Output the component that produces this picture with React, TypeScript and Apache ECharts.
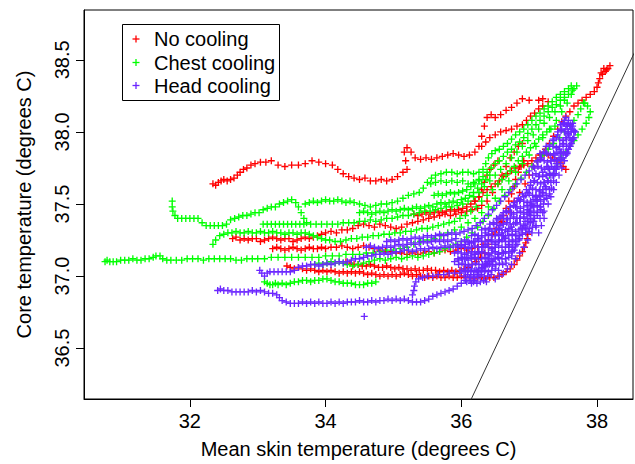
import React, { useEffect, useRef } from "react";
import * as echarts from "echarts";

const FONT = "Liberation Sans, Arial, Helvetica, sans-serif";
const RED = "#FF0000";
const GREEN = "#00FF00";
const PURPLE = "#6B26FF";

const xTicks = [32, 34, 36, 38];
const yTicks = [36.5, 37, 37.5, 38, 38.5];
const xRange = [30.44, 38.53];
const yRange = [36.147, 38.846];
const identityLine = [[30, 30], [39, 39]];
const legendNames = ["No cooling", "Chest cooling", "Head cooling"];

// ---- No cooling (red) runs: [mean skin, core] ----
const noCool1 = [[32.34,37.64],[32.38,37.63],[32.42,37.65],[32.46,37.66],[32.5,37.67],[32.55,37.66],[32.6,37.67],[32.65,37.68],[32.7,37.7],[32.74,37.72],[32.79,37.74],[32.84,37.75],[32.9,37.77],[32.96,37.78],[33.04,37.79],[33.12,37.79],[33.2,37.8],[33.3,37.77],[33.4,37.76],[33.5,37.77],[33.6,37.77],[33.7,37.78],[33.8,37.8],[33.9,37.79],[34.0,37.78],[34.1,37.77],[34.18,37.74],[34.26,37.71],[34.34,37.69],[34.42,37.68],[34.5,37.67],[34.58,37.68],[34.66,37.66],[34.74,37.66],[34.82,37.67],[34.9,37.66],[34.98,37.67],[35.06,37.69],[35.14,37.72],[35.2,37.74],[35.18,37.8],[35.16,37.86],[35.2,37.89],[35.26,37.86],[35.32,37.82],[35.4,37.81],[35.48,37.82],[35.56,37.81],[35.64,37.82],[35.72,37.83],[35.8,37.84],[35.88,37.85],[35.96,37.84],[36.04,37.83],[36.12,37.84],[36.2,37.86],[36.26,37.9],[36.3,37.97],[36.34,38.04],[36.38,38.1],[36.44,38.12],[36.5,38.1],[36.58,38.12],[36.66,38.15],[36.74,38.17],[36.82,38.2],[36.9,38.23],[37.0,38.22],[37.14,38.22],[37.2,38.23],[37.28,38.21]];
const noCool2 = [[32.63,37.26],[32.68,37.27],[32.74,37.25],[32.8,37.26],[32.86,37.25],[32.92,37.26],[32.98,37.26],[33.04,37.24],[33.1,37.25],[33.16,37.26],[33.22,37.27],[33.28,37.26],[33.34,37.25],[33.4,37.26],[33.46,37.26],[33.52,37.24],[33.58,37.25],[33.64,37.26],[33.7,37.27],[33.76,37.26],[33.82,37.27],[33.88,37.28],[33.94,37.29],[34.0,37.3],[34.08,37.31],[34.16,37.3],[34.24,37.32],[34.32,37.32],[34.4,37.33],[34.48,37.35],[34.56,37.36],[34.64,37.35],[34.72,37.34],[34.8,37.36],[34.88,37.35],[34.96,37.34],[35.04,37.33],[35.12,37.34],[35.2,37.36],[35.28,37.37],[35.36,37.38],[35.44,37.39],[35.52,37.4],[35.6,37.41],[35.68,37.42],[35.76,37.43],[35.84,37.42],[35.92,37.43],[36.0,37.44],[36.08,37.45],[36.16,37.46],[36.24,37.47],[36.3,37.49],[36.38,37.52],[36.46,37.58],[36.54,37.64],[36.6,37.7],[36.66,37.76],[36.72,37.82],[36.78,37.86],[36.84,37.9],[36.9,37.92]];
const noCool3 = [[33.22,37.19],[33.28,37.2],[33.34,37.19],[33.4,37.18],[33.46,37.19],[33.52,37.2],[33.58,37.19],[33.64,37.18],[33.7,37.19],[33.76,37.2],[33.82,37.19],[33.88,37.19],[33.94,37.2],[34.0,37.19],[34.08,37.2],[34.16,37.2],[34.24,37.21],[34.32,37.2],[34.4,37.19],[34.48,37.2],[34.56,37.21],[34.64,37.2],[34.72,37.19],[34.8,37.18],[34.88,37.17],[34.96,37.17],[35.04,37.16],[35.12,37.16],[35.2,37.15],[35.28,37.16],[35.36,37.15],[35.44,37.16],[35.52,37.17],[35.6,37.16],[35.68,37.17],[35.76,37.18],[35.84,37.17],[35.92,37.18],[36.0,37.19],[36.08,37.18],[36.16,37.19],[36.24,37.2],[36.32,37.22],[36.4,37.25],[36.46,37.29],[36.52,37.33],[36.58,37.37],[36.62,37.42],[36.66,37.47],[36.7,37.52],[36.74,37.57],[36.78,37.62],[36.8,37.67],[36.84,37.72],[36.88,37.76],[36.92,37.8]];
const noCool4 = [[33.43,37.07],[33.48,37.06],[33.54,37.05],[33.6,37.06],[33.66,37.05],[33.72,37.04],[33.78,37.05],[33.84,37.04],[33.9,37.03],[33.96,37.04],[34.02,37.03],[34.08,37.04],[34.14,37.03],[34.2,37.02],[34.26,37.03],[34.32,37.02],[34.38,37.03],[34.44,37.02],[34.5,37.03],[34.56,37.02],[34.62,37.01],[34.68,37.02],[34.74,37.01],[34.8,37.0],[34.86,37.01],[34.92,37.0],[34.98,37.01],[35.04,37.0],[35.1,37.01],[35.16,37.02],[35.22,37.01],[35.28,37.0],[35.34,37.01],[35.4,37.0],[35.46,36.99],[35.52,37.0],[35.58,36.99],[35.64,37.0],[35.7,36.99],[35.76,36.99],[35.82,37.0],[35.88,36.99],[35.94,36.99],[36.0,37.0],[36.06,36.99],[36.12,36.99],[36.18,36.98],[36.24,36.99],[36.3,36.99],[36.36,36.98],[36.42,36.99],[36.48,36.99],[36.54,37.0],[36.6,37.01],[36.66,37.03],[36.72,37.05],[36.78,37.08],[36.82,37.11],[36.86,37.14],[36.9,37.17],[36.93,37.2],[36.95,37.23],[36.97,37.26],[36.98,37.29]];
const noCool5 = [[34.3,37.1],[34.36,37.09],[34.42,37.08],[34.48,37.08],[34.54,37.07],[34.6,37.07],[34.66,37.08],[34.72,37.07],[34.78,37.06],[34.84,37.06],[34.9,37.07],[34.96,37.06],[35.02,37.05],[35.08,37.06],[35.14,37.05],[35.2,37.05],[35.26,37.04],[35.32,37.05],[35.38,37.04],[35.44,37.04],[35.5,37.05],[35.56,37.04],[35.62,37.04],[35.68,37.03],[35.74,37.04],[35.8,37.03],[35.86,37.04],[35.92,37.03],[35.98,37.04],[36.04,37.05],[36.1,37.06],[36.16,37.08],[36.22,37.1],[36.28,37.13],[36.34,37.16],[36.4,37.2]];
const noCool6 = [[36.2,37.12],[36.3,37.16],[36.4,37.22],[36.5,37.3],[36.6,37.38],[36.7,37.45],[36.78,37.52],[36.86,37.58],[36.94,37.64],[37.0,37.7],[37.06,37.76],[37.12,37.8],[37.18,37.84],[37.24,37.88],[37.3,37.92],[37.36,37.97],[37.42,38.02],[37.48,38.07],[37.54,38.11],[37.6,38.14],[37.66,38.18],[37.72,38.2],[37.78,38.22],[37.84,38.24],[37.9,38.26],[37.96,38.28],[38.0,38.31],[38.02,38.34],[38.04,38.37],[38.08,38.4],[38.12,38.42],[38.16,38.44],[38.19,38.46],[38.14,38.43],[38.1,38.44],[38.06,38.41]];
const noCool7 = [[36.3,37.9],[36.36,37.93],[36.42,37.96],[36.5,37.98],[36.58,38.0],[36.66,38.01],[36.74,38.02],[36.82,38.04],[36.9,38.05],[36.96,38.08],[37.02,38.11],[37.08,38.13],[37.14,38.16],[37.2,38.18]];
const noCool8 = [[36.2,37.52],[36.26,37.55],[36.32,37.58],[36.38,37.6],[36.44,37.62],[36.5,37.64],[36.56,37.66],[36.62,37.69],[36.68,37.71],[36.74,37.73],[36.8,37.75],[36.86,37.76],[36.92,37.77],[36.98,37.78],[37.04,37.8],[37.1,37.82],[37.16,37.84],[37.22,37.85],[37.28,37.84],[37.34,37.82],[37.4,37.8],[37.46,37.79],[37.5,37.76],[37.54,37.74]];
const noCool9 = [[35.3,37.43],[35.36,37.42],[35.42,37.43],[35.48,37.44],[35.54,37.43],[35.6,37.44],[35.66,37.45],[35.72,37.44],[35.78,37.45],[35.84,37.46],[35.9,37.45],[35.96,37.46],[36.02,37.47],[36.08,37.48],[36.14,37.5],[36.2,37.52],[36.26,37.55],[36.3,37.6],[36.34,37.65],[36.38,37.7],[36.42,37.74],[36.48,37.77],[36.54,37.8]];

// ---- Chest cooling (green) runs ----
const chestCool1 = [[30.75,37.1],[30.78,37.11],[30.82,37.1],[30.87,37.1],[30.92,37.1],[30.98,37.11],[31.04,37.11],[31.1,37.11],[31.16,37.12],[31.22,37.11],[31.28,37.11],[31.34,37.12],[31.4,37.12],[31.46,37.13],[31.5,37.14],[31.56,37.14],[31.6,37.12],[31.66,37.11],[31.72,37.11],[31.8,37.11],[31.88,37.11],[31.96,37.12],[32.04,37.12],[32.12,37.12],[32.2,37.11],[32.28,37.12],[32.36,37.12],[32.44,37.12],[32.52,37.12],[32.6,37.12],[32.68,37.11],[32.76,37.11],[32.84,37.12],[32.92,37.12],[33.0,37.12],[33.1,37.12],[33.2,37.13],[33.3,37.13],[33.4,37.13],[33.5,37.13],[33.6,37.13],[33.7,37.13],[33.8,37.13],[33.9,37.13],[34.0,37.14],[34.1,37.14],[34.2,37.14],[34.3,37.15],[34.4,37.15],[34.5,37.15],[34.6,37.16],[34.7,37.16],[34.8,37.17],[34.9,37.18],[35.0,37.18],[35.1,37.19],[35.2,37.2],[35.3,37.22],[35.4,37.24],[35.5,37.25],[35.6,37.26],[35.7,37.28],[35.8,37.3],[35.9,37.32],[36.0,37.34],[36.1,37.37],[36.2,37.4],[36.3,37.44],[36.4,37.48],[36.5,37.54],[36.6,37.6],[36.7,37.66],[36.8,37.72],[36.9,37.78],[37.0,37.84],[37.1,37.9],[37.2,37.96],[37.3,38.02],[37.4,38.08],[37.48,38.14],[37.56,38.2],[37.62,38.26],[37.66,38.3]];
const chestCool2 = [[31.74,37.52],[31.74,37.48],[31.75,37.45],[31.78,37.42],[31.82,37.4],[31.88,37.4],[31.94,37.4],[32.0,37.4],[32.06,37.4],[32.12,37.4],[32.18,37.37],[32.24,37.35],[32.3,37.35],[32.36,37.35],[32.42,37.35],[32.48,37.35],[32.54,37.36],[32.6,37.39],[32.66,37.4],[32.72,37.41],[32.78,37.42],[32.84,37.42],[32.9,37.43],[32.96,37.44],[33.02,37.44],[33.08,37.46],[33.14,37.47],[33.2,37.48],[33.26,37.48],[33.32,37.5],[33.38,37.51],[33.44,37.52],[33.5,37.53],[33.56,37.51],[33.6,37.48],[33.64,37.44],[33.68,37.4],[33.72,37.37],[33.78,37.36],[33.86,37.36],[33.94,37.36],[34.02,37.36],[34.1,37.36],[34.18,37.36],[34.26,37.37],[34.34,37.37],[34.42,37.37],[34.5,37.38],[34.58,37.38],[34.66,37.39],[34.74,37.38],[34.82,37.39],[34.9,37.4],[34.98,37.4],[35.06,37.41],[35.14,37.42],[35.22,37.42],[35.3,37.43],[35.38,37.44],[35.46,37.45],[35.54,37.45],[35.62,37.46],[35.7,37.47],[35.78,37.48],[35.86,37.48],[35.94,37.49],[36.02,37.5],[36.1,37.52],[36.18,37.55],[36.26,37.58],[36.34,37.62],[36.42,37.66],[36.5,37.7],[36.58,37.74],[36.66,37.78],[36.74,37.82],[36.82,37.86],[36.9,37.9],[36.98,37.94],[37.06,37.98],[37.14,38.02],[37.22,38.06],[37.3,38.1],[37.38,38.14],[37.46,38.18],[37.52,38.22],[37.58,38.26],[37.64,38.29],[37.7,38.32]];
const chestCool3 = [[33.7,37.5],[33.76,37.51],[33.82,37.52],[33.88,37.51],[33.94,37.52],[34.0,37.53],[34.06,37.52],[34.12,37.52],[34.18,37.53],[34.24,37.52],[34.3,37.51],[34.36,37.52],[34.42,37.51],[34.5,37.5],[34.58,37.49],[34.66,37.48],[34.74,37.49],[34.82,37.5],[34.9,37.5],[34.98,37.51],[35.06,37.52],[35.14,37.54],[35.22,37.56],[35.3,37.57],[35.38,37.58],[35.44,37.61],[35.5,37.65],[35.56,37.68],[35.62,37.7],[35.7,37.71],[35.78,37.72],[35.86,37.72],[35.94,37.71],[36.02,37.72],[36.1,37.72],[36.18,37.71],[36.26,37.72],[36.32,37.74],[36.36,37.78],[36.4,37.82],[36.45,37.85],[36.5,37.87],[36.56,37.88],[36.62,37.9],[36.68,37.92],[36.74,37.95],[36.8,37.98],[36.86,38.0],[36.92,38.02],[36.98,38.05],[37.04,38.08],[37.1,38.11],[37.16,38.13],[37.22,38.16],[37.28,38.18],[37.34,38.21],[37.4,38.24],[37.46,38.26],[37.52,38.28],[37.58,38.3],[37.62,38.32]];
const chestCool4 = [[35.55,37.64],[35.62,37.65],[35.7,37.66],[35.78,37.65],[35.86,37.66],[35.94,37.65],[36.02,37.66],[36.1,37.64],[36.18,37.65],[36.26,37.67]];
const chestCool5 = [[33.08,37.36],[33.14,37.36],[33.2,37.36],[33.26,37.36],[33.32,37.36],[33.38,37.36],[33.44,37.36],[33.5,37.36],[33.56,37.36],[33.62,37.36],[33.68,37.36]];
const chestCool6 = [[32.34,37.22],[32.38,37.25],[32.44,37.28],[32.5,37.29],[32.56,37.3],[32.62,37.3],[32.68,37.31],[32.74,37.3],[32.8,37.3],[32.86,37.31],[32.92,37.3],[32.98,37.3],[33.04,37.31],[33.1,37.3],[33.16,37.3],[33.22,37.31],[33.28,37.3],[33.34,37.3],[33.4,37.29],[33.46,37.3],[33.52,37.3],[33.58,37.29],[33.64,37.3],[33.7,37.3],[33.76,37.29],[33.82,37.28],[33.88,37.27],[33.94,37.26],[34.0,37.25],[34.06,37.25],[34.14,37.24],[34.22,37.24],[34.3,37.25],[34.38,37.26],[34.46,37.26],[34.54,37.27],[34.62,37.27],[34.7,37.28],[34.78,37.28],[34.86,37.29],[34.94,37.29],[35.02,37.3],[35.1,37.3],[35.18,37.31],[35.26,37.31],[35.34,37.32],[35.42,37.33],[35.5,37.33],[35.58,37.34],[35.66,37.35],[35.74,37.36],[35.82,37.37],[35.9,37.38],[35.98,37.4],[36.06,37.42],[36.14,37.45],[36.22,37.48],[36.3,37.52],[36.38,37.56],[36.46,37.6],[36.54,37.64],[36.6,37.67],[36.66,37.7],[36.72,37.73],[36.78,37.76],[36.84,37.8],[36.9,37.83],[36.96,37.86],[37.02,37.89],[37.08,37.92],[37.14,37.95],[37.2,37.98],[37.26,38.0],[37.32,38.02],[37.38,38.04]];
const chestCool7 = [[33.1,36.96],[33.14,36.95],[33.18,36.94],[33.22,36.94],[33.26,36.95],[33.3,36.94],[33.36,36.95],[33.42,36.94],[33.48,36.95],[33.54,36.96],[33.6,36.96],[33.66,36.97],[33.72,36.97],[33.78,36.96],[33.84,36.97],[33.9,36.97],[33.96,36.98],[34.02,36.98],[34.08,36.97],[34.14,36.96],[34.2,36.96],[34.26,36.95],[34.32,36.95],[34.38,36.95],[34.44,36.94],[34.5,36.94],[34.56,36.94],[34.62,36.95],[34.68,36.95],[34.74,36.96]];
const chestCool8 = [[33.84,37.08],[33.9,37.09],[33.96,37.08],[34.02,37.09],[34.08,37.1],[34.14,37.09],[34.2,37.1],[34.26,37.09],[34.32,37.08],[34.4,37.07],[34.48,37.08],[34.56,37.09],[34.64,37.1],[34.72,37.11],[34.8,37.12],[34.88,37.11],[34.96,37.12],[35.04,37.13],[35.12,37.12],[35.2,37.13],[35.28,37.14],[35.36,37.13],[35.44,37.14],[35.52,37.15],[35.6,37.16],[35.68,37.17],[35.76,37.19],[35.84,37.2],[35.92,37.22],[36.0,37.24],[36.08,37.27],[36.16,37.3],[36.24,37.34],[36.32,37.38],[36.4,37.42],[36.48,37.47],[36.56,37.52],[36.64,37.56],[36.72,37.6],[36.8,37.64],[36.88,37.68],[36.96,37.72],[37.04,37.76],[37.12,37.8],[37.2,37.84],[37.28,37.88],[37.36,37.92],[37.44,37.96],[37.52,38.0],[37.6,38.04],[37.66,38.08],[37.72,38.12],[37.76,38.16],[37.8,38.2]];
const chestCool9 = [[37.3,37.7],[37.36,37.74],[37.42,37.78],[37.48,37.82],[37.54,37.86],[37.6,37.9],[37.66,37.94],[37.72,37.98],[37.78,38.02],[37.84,38.06],[37.88,38.1],[37.9,38.14],[37.86,38.18],[37.82,38.2]];
const chestCool10 = [[34.5,37.44],[34.56,37.45],[34.62,37.44],[34.68,37.43],[34.74,37.44],[34.8,37.45],[34.86,37.44],[34.92,37.45],[34.98,37.46],[35.04,37.45],[35.1,37.46],[35.16,37.47],[35.22,37.46],[35.28,37.47],[35.34,37.48],[35.4,37.47],[35.46,37.48],[35.52,37.49],[35.58,37.48],[35.64,37.5],[35.7,37.51],[35.76,37.5],[35.82,37.51],[35.88,37.52],[35.94,37.51],[36.0,37.53],[36.06,37.54],[36.12,37.56],[36.18,37.58],[36.24,37.61],[36.3,37.64],[36.36,37.67],[36.42,37.7]];
const chestCool11 = [[35.6,37.56],[35.66,37.57],[35.72,37.56],[35.78,37.57],[35.84,37.58],[35.9,37.57],[35.96,37.58],[36.02,37.59],[36.08,37.6],[36.14,37.62],[36.2,37.64],[36.26,37.66],[36.32,37.69],[36.38,37.72],[36.44,37.75],[36.5,37.78],[36.56,37.8],[36.62,37.83],[36.68,37.86],[36.74,37.88],[36.8,37.91],[36.86,37.93],[36.92,37.96],[36.98,37.99],[37.04,38.02],[37.1,38.05],[37.16,38.08],[37.22,38.11],[37.28,38.14],[37.34,38.17],[37.4,38.19],[37.46,38.22],[37.52,38.24]];

// ---- Head cooling (purple) runs ----
const headCool1 = [[32.41,36.9],[32.45,36.91],[32.5,36.9],[32.56,36.9],[32.62,36.89],[32.68,36.89],[32.74,36.89],[32.8,36.89],[32.86,36.89],[32.92,36.9],[32.98,36.89],[33.04,36.9],[33.1,36.89],[33.16,36.88],[33.22,36.88],[33.28,36.87],[33.32,36.85],[33.36,36.83],[33.42,36.82],[33.48,36.81],[33.54,36.81],[33.6,36.81],[33.66,36.82],[33.72,36.81],[33.78,36.82],[33.84,36.81],[33.9,36.82],[33.96,36.81],[34.02,36.81],[34.08,36.82],[34.14,36.81],[34.2,36.82],[34.26,36.81],[34.32,36.82],[34.38,36.82],[34.44,36.82],[34.5,36.83],[34.56,36.82],[34.62,36.82],[34.68,36.83],[34.74,36.82],[34.8,36.83],[34.86,36.83],[34.92,36.84],[34.98,36.83],[35.04,36.84],[35.1,36.83],[35.16,36.84],[35.22,36.83],[35.28,36.82],[35.34,36.82],[35.4,36.82],[35.46,36.83],[35.52,36.84],[35.58,36.86],[35.64,36.87],[35.7,36.88],[35.76,36.89],[35.82,36.9],[35.88,36.91],[35.94,36.93],[36.0,36.95],[36.06,36.97],[36.12,36.99],[36.18,37.01],[36.24,37.03],[36.3,37.05],[36.36,37.07],[36.42,37.09],[36.48,37.12],[36.54,37.15],[34.57,36.72]];
const headCool2 = [[35.28,36.87],[35.3,36.9],[35.31,36.93],[35.33,36.96],[35.37,36.98],[35.43,36.99],[35.5,37.0],[35.58,37.0],[35.66,37.01],[35.74,37.01],[35.82,37.02],[35.9,37.02],[35.98,37.02],[36.06,37.03],[36.14,37.03],[36.22,37.04],[36.3,37.06],[36.38,37.08],[36.46,37.1],[36.54,37.13],[36.62,37.16],[36.7,37.2],[36.76,37.24],[36.82,37.28],[36.88,37.33],[36.94,37.38],[37.0,37.43],[37.06,37.48],[37.12,37.53]];
const headCool3 = [[33.03,37.04],[33.06,37.02],[33.1,37.0],[33.14,37.02],[33.18,37.03],[33.24,37.03],[33.3,37.03],[33.36,37.03],[33.42,37.03],[33.48,37.03],[33.54,37.04],[33.6,37.06],[33.66,37.07],[33.72,37.07],[33.78,37.08],[33.84,37.08],[33.9,37.07],[33.96,37.08],[34.02,37.09],[34.08,37.08],[34.14,37.09],[34.2,37.1],[34.26,37.09],[34.32,37.1],[34.38,37.11],[34.44,37.12],[34.5,37.12],[34.56,37.13],[34.62,37.14],[34.68,37.14],[34.74,37.15],[34.8,37.15],[34.86,37.16],[34.92,37.15],[34.98,37.16],[35.04,37.17],[35.1,37.17],[35.16,37.18],[35.22,37.18],[35.28,37.17],[35.34,37.18],[35.4,37.19],[35.46,37.18],[35.52,37.19],[35.58,37.2],[35.64,37.19],[35.7,37.2],[35.76,37.21],[35.82,37.2],[35.88,37.21],[35.94,37.22],[36.0,37.21],[36.06,37.22],[36.12,37.23],[36.18,37.24],[36.24,37.26],[36.3,37.28],[36.36,37.3],[36.42,37.33],[36.48,37.36],[36.54,37.39],[36.6,37.42],[36.66,37.45],[36.72,37.48],[36.78,37.51],[36.84,37.54],[36.9,37.57],[36.96,37.6],[37.02,37.63],[37.08,37.66],[37.14,37.69],[37.2,37.72],[37.26,37.76],[37.32,37.8],[37.38,37.84],[37.44,37.88],[37.5,37.92],[37.54,37.96],[37.58,38.0],[37.6,38.04],[37.58,38.08],[37.54,38.1]];
const headCool4 = [[34.9,37.24],[34.96,37.25],[35.02,37.24],[35.08,37.25],[35.14,37.26],[35.2,37.25],[35.26,37.26],[35.32,37.27],[35.38,37.26],[35.44,37.27],[35.5,37.28],[35.56,37.27],[35.62,37.28],[35.68,37.29],[35.74,37.28],[35.8,37.29],[35.86,37.3],[35.92,37.29],[35.98,37.3],[36.04,37.31],[36.1,37.32],[36.16,37.33],[36.22,37.35],[36.28,37.37],[36.34,37.4],[36.4,37.43],[36.46,37.46],[36.52,37.49],[36.58,37.52],[36.64,37.55],[36.7,37.58],[36.76,37.61],[36.82,37.64],[36.88,37.67],[36.94,37.7],[37.0,37.73],[37.06,37.76],[37.12,37.79],[37.18,37.82],[37.24,37.86],[37.3,37.9],[37.36,37.94],[37.42,37.98],[37.48,38.02],[37.52,38.06]];
const headCool5 = [[36.5,36.98],[36.56,37.0],[36.62,37.02],[36.68,37.05],[36.74,37.08],[36.8,37.12],[36.86,37.16],[36.92,37.2],[36.98,37.25],[37.04,37.3],[37.1,37.35],[37.16,37.4],[37.22,37.45],[37.28,37.5],[37.32,37.55],[37.36,37.6],[37.4,37.65],[37.44,37.7],[37.48,37.75],[37.52,37.8],[37.56,37.85],[37.6,37.9],[37.64,37.95],[37.66,38.0],[37.64,38.04]];
const headCool6 = [[36.15,36.95],[36.2,36.97],[36.26,37.0],[36.3,37.03],[36.34,37.07],[36.38,37.1],[36.42,37.14],[36.46,37.18],[36.5,37.22],[36.56,37.25],[36.62,37.28],[36.68,37.31],[36.74,37.34],[36.8,37.37],[36.86,37.4],[36.92,37.43],[36.98,37.46],[37.04,37.49],[37.1,37.52],[37.16,37.55],[37.2,37.58],[37.24,37.62],[37.28,37.66],[37.32,37.7],[37.36,37.74],[37.4,37.78],[37.44,37.82],[37.48,37.86]];
const headCool7 = [[36.6,37.3],[36.64,37.26],[36.7,37.22],[36.76,37.18],[36.82,37.22],[36.86,37.26],[36.9,37.3],[36.94,37.34],[36.98,37.38],[37.02,37.42],[37.06,37.38],[37.1,37.34],[37.14,37.3],[37.18,37.35],[37.22,37.4],[37.2,37.44],[37.16,37.48],[37.12,37.44],[37.08,37.4],[37.0,37.45],[37.04,37.5],[37.1,37.56],[37.16,37.6],[37.22,37.65],[37.26,37.7],[37.3,37.74]];
const headCool8 = [[37.36,37.7],[37.4,37.74],[37.46,37.78],[37.5,37.82],[37.56,37.86],[37.6,37.9],[37.62,37.94],[37.58,37.98],[37.54,38.02],[37.5,38.06],[37.52,38.08],[37.56,38.05],[37.62,38.02],[37.68,38.0],[37.66,37.96],[37.62,37.92],[37.58,37.88],[37.54,37.84]];
const headCool9 = [[35.9,37.1],[35.96,37.11],[36.02,37.12],[36.08,37.13],[36.14,37.14],[36.2,37.15],[36.26,37.17],[36.32,37.2],[36.38,37.22],[36.44,37.25],[36.5,37.28],[36.56,37.32],[36.62,37.36],[36.68,37.4],[36.74,37.44],[36.8,37.48],[36.86,37.52],[36.92,37.55],[36.98,37.58]];
// dense head-cooling cluster near the identity line, read as overlapping traces
const headCool10 = [[36.08,36.96],[36.13,36.97],[36.18,36.96],[36.23,36.95],[36.28,36.96],[36.33,36.97],[36.37,36.96]];
const headCool11 = [[36.04,37.0],[36.09,37.01],[36.14,37.0],[36.19,36.99],[36.24,37.0],[36.29,37.01],[36.34,37.0],[36.39,37.0],[36.44,37.01]];
const headCool12 = [[36.0,37.04],[36.05,37.05],[36.1,37.04],[36.15,37.05],[36.2,37.04],[36.25,37.04],[36.3,37.05],[36.35,37.04],[36.4,37.03],[36.45,37.04],[36.5,37.05],[36.55,37.04]];
const headCool13 = [[35.96,37.08],[36.01,37.09],[36.06,37.08],[36.11,37.07],[36.16,37.08],[36.21,37.09],[36.26,37.08],[36.31,37.08],[36.36,37.09],[36.41,37.08],[36.46,37.07],[36.51,37.08],[36.56,37.09],[36.61,37.08],[36.66,37.09]];
const headCool14 = [[35.95,37.12],[36.0,37.13],[36.05,37.12],[36.1,37.11],[36.15,37.12],[36.2,37.13],[36.25,37.12],[36.3,37.12],[36.35,37.13],[36.4,37.12],[36.45,37.11],[36.5,37.12],[36.55,37.13],[36.6,37.12],[36.65,37.12],[36.7,37.13],[36.74,37.14]];
const headCool15 = [[35.9,37.16],[35.95,37.17],[36.0,37.16],[36.05,37.15],[36.1,37.16],[36.15,37.17],[36.2,37.16],[36.25,37.16],[36.3,37.17],[36.35,37.16],[36.4,37.15],[36.45,37.16],[36.5,37.17],[36.55,37.16],[36.6,37.16],[36.65,37.17],[36.7,37.16],[36.75,37.17],[36.78,37.18]];
const headCool16 = [[35.95,37.2],[36.0,37.21],[36.05,37.2],[36.1,37.19],[36.15,37.2],[36.2,37.21],[36.25,37.2],[36.3,37.2],[36.35,37.21],[36.4,37.2],[36.45,37.19],[36.5,37.2],[36.55,37.21],[36.6,37.2],[36.65,37.2],[36.7,37.21],[36.75,37.2],[36.8,37.21]];
const headCool17 = [[36.0,37.24],[36.05,37.25],[36.1,37.24],[36.15,37.23],[36.2,37.24],[36.25,37.25],[36.3,37.24],[36.35,37.24],[36.4,37.25],[36.45,37.24],[36.5,37.23],[36.55,37.24],[36.6,37.25],[36.65,37.24],[36.7,37.24],[36.75,37.25],[36.8,37.24],[36.85,37.25]];
const headCool18 = [[36.15,37.28],[36.2,37.29],[36.25,37.28],[36.3,37.27],[36.35,37.28],[36.4,37.29],[36.45,37.28],[36.5,37.28],[36.55,37.29],[36.6,37.28],[36.65,37.27],[36.7,37.28],[36.75,37.29],[36.8,37.28],[36.85,37.28],[36.9,37.29],[36.95,37.3],[37.0,37.31]];
const headCool19 = [[36.3,37.32],[36.35,37.33],[36.4,37.32],[36.45,37.31],[36.5,37.32],[36.55,37.33],[36.6,37.32],[36.65,37.32],[36.7,37.33],[36.75,37.32],[36.8,37.31],[36.85,37.32],[36.9,37.33],[36.95,37.32],[37.0,37.33],[37.05,37.34]];
const headCool20 = [[36.42,37.36],[36.47,37.37],[36.52,37.36],[36.57,37.35],[36.62,37.36],[36.67,37.37],[36.72,37.36],[36.77,37.36],[36.82,37.37],[36.87,37.36],[36.92,37.35],[36.97,37.36],[37.02,37.37],[37.07,37.38]];
const headCool21 = [[36.52,37.4],[36.57,37.41],[36.62,37.4],[36.67,37.39],[36.72,37.4],[36.77,37.41],[36.82,37.4],[36.87,37.4],[36.92,37.41],[36.97,37.4],[37.02,37.39],[37.07,37.4],[37.12,37.42]];
const headCool22 = [[36.62,37.44],[36.67,37.45],[36.72,37.44],[36.77,37.43],[36.82,37.44],[36.87,37.45],[36.92,37.44],[36.97,37.44],[37.02,37.45],[37.07,37.44],[37.12,37.45],[37.17,37.46]];
const headCool23 = [[36.72,37.48],[36.77,37.49],[36.82,37.48],[36.87,37.47],[36.92,37.48],[36.97,37.49],[37.02,37.48],[37.07,37.48],[37.12,37.49],[37.17,37.48],[37.21,37.5]];
const headCool24 = [[36.82,37.52],[36.87,37.53],[36.92,37.52],[36.97,37.51],[37.02,37.52],[37.07,37.53],[37.12,37.52],[37.17,37.52],[37.22,37.53],[37.26,37.54]];
const headCool25 = [[36.95,37.56],[37.0,37.57],[37.05,37.56],[37.1,37.55],[37.15,37.56],[37.2,37.57],[37.25,37.56],[37.3,37.57]];
const headCool26 = [[37.0,37.6],[37.05,37.61],[37.1,37.6],[37.15,37.59],[37.2,37.6],[37.25,37.61],[37.3,37.6],[37.33,37.61]];
const headCool27 = [[37.02,37.65],[37.07,37.66],[37.12,37.65],[37.17,37.64],[37.22,37.65],[37.27,37.66],[37.32,37.65],[37.36,37.66]];
const headCool28 = [[37.05,37.7],[37.1,37.71],[37.15,37.7],[37.2,37.69],[37.25,37.7],[37.3,37.71],[37.35,37.7],[37.38,37.71]];
const headCool29 = [[37.08,37.75],[37.13,37.76],[37.18,37.75],[37.23,37.74],[37.28,37.75],[37.33,37.76],[37.38,37.75],[37.42,37.76]];
const headCool30 = [[37.12,37.8],[37.17,37.81],[37.22,37.8],[37.27,37.79],[37.32,37.8],[37.37,37.81],[37.42,37.8],[37.47,37.81]];
const headCool31 = [[37.16,37.85],[37.21,37.86],[37.26,37.85],[37.31,37.84],[37.36,37.85],[37.41,37.86],[37.46,37.85],[37.51,37.86],[37.55,37.85]];
const headCool32 = [[37.25,37.9],[37.3,37.91],[37.35,37.9],[37.4,37.89],[37.45,37.9],[37.5,37.91],[37.55,37.9],[37.6,37.91]];
const headCool33 = [[37.35,37.95],[37.4,37.96],[37.45,37.95],[37.5,37.94],[37.55,37.95],[37.6,37.96],[37.65,37.95]];
const headCool34 = [[37.42,38.0],[37.47,38.01],[37.52,38.0],[37.57,37.99],[37.62,38.0],[37.66,38.01]];
const headCool35 = [[37.46,38.05],[37.51,38.06],[37.56,38.04],[37.61,38.05],[37.64,38.06]];
const headCool36 = [[34.6,37.2],[34.66,37.21],[34.72,37.2],[34.78,37.19],[34.84,37.2],[34.9,37.21],[34.96,37.2],[35.02,37.21],[35.08,37.22],[35.14,37.21],[35.2,37.22],[35.26,37.23],[35.32,37.22],[35.38,37.23],[35.44,37.24],[35.5,37.23],[35.56,37.24],[35.62,37.25],[35.68,37.24],[35.74,37.25],[35.8,37.24],[35.86,37.25],[35.92,37.26]];

const noCoolingRuns = [noCool1, noCool2, noCool3, noCool4, noCool5, noCool6, noCool7, noCool8, noCool9];
const chestCoolingRuns = [chestCool1, chestCool2, chestCool3, chestCool4, chestCool5, chestCool6, chestCool7, chestCool8, chestCool9, chestCool10, chestCool11];
const headCoolingRuns = [headCool1, headCool2, headCool3, headCool4, headCool5, headCool6, headCool7, headCool8, headCool9,
  headCool10, headCool11, headCool12, headCool13, headCool14, headCool15, headCool16, headCool17, headCool18, headCool19,
  headCool20, headCool21, headCool22, headCool23, headCool24, headCool25, headCool26, headCool27, headCool28, headCool29,
  headCool30, headCool31, headCool32, headCool33, headCool34, headCool35, headCool36];

const PLUS = "path://M-1,-0.19L1,-0.19L1,0.19L-1,0.19Z M-0.19,-1L0.19,-1L0.19,1L-0.19,1Z";

function scatter(name: string, color: string, runs: number[][][]) {
  return {
    name,
    type: "scatter",
    data: runs.flat(),
    symbol: PLUS,
    symbolSize: 7,
    itemStyle: { color, opacity: 1 },
    silent: true,
  };
}

export default function App() {
  const ref = useRef<HTMLDivElement>(null);
  useEffect(() => {
    if (!ref.current) return;
    const chart = echarts.init(ref.current, null, { renderer: "svg" });
    const colors = [RED, GREEN, PURPLE];
    const legendY = [39, 62.5, 85.5];
    const legendGraphics: any[] = [
      {
        type: "rect",
        shape: { x: 122.5, y: 24.5, width: 157, height: 76 },
        style: { fill: "#fff", stroke: "#000", lineWidth: 1 },
        z: 10,
      },
    ];
    legendNames.forEach((n, i) => {
      const cy = legendY[i];
      legendGraphics.push(
        { type: "line", shape: { x1: 132.5, y1: cy, x2: 139.5, y2: cy }, style: { stroke: colors[i], lineWidth: 1.3 }, z: 11 },
        { type: "line", shape: { x1: 136, y1: cy - 3.5, x2: 136, y2: cy + 3.5 }, style: { stroke: colors[i], lineWidth: 1.3 }, z: 11 },
        {
          type: "text",
          x: 154,
          y: cy,
          style: { text: n, fontSize: 20, fontFamily: FONT, fill: "#000", verticalAlign: "middle", align: "left" },
          z: 11,
        }
      );
    });
    chart.setOption({
      animation: false,
      backgroundColor: "#fff",
      grid: { left: 84, right: 2, top: 10, bottom: 64, show: true, borderColor: "#000", borderWidth: 1 },
      xAxis: {
        type: "value",
        min: xRange[0],
        max: xRange[1],
        name: "Mean skin temperature (degrees C)",
        nameLocation: "middle",
        nameGap: 40,
        nameTextStyle: { fontSize: 20, color: "#000", fontFamily: FONT },
        axisLine: { show: true, onZero: false, lineStyle: { color: "#000", width: 1 } },
        axisTick: { show: true, length: 8, customValues: xTicks, lineStyle: { color: "#000" } },
        axisLabel: { customValues: xTicks, fontSize: 20, color: "#000", fontFamily: FONT, margin: 12 },
        splitLine: { show: false },
      },
      yAxis: {
        type: "value",
        min: yRange[0],
        max: yRange[1],
        name: "Core temperature (degrees C)",
        nameLocation: "middle",
        nameGap: 50,
        nameTextStyle: { fontSize: 20, color: "#000", fontFamily: FONT },
        axisLine: { show: true, onZero: false, lineStyle: { color: "#000", width: 1 } },
        axisTick: { show: true, length: 8, customValues: yTicks, lineStyle: { color: "#000" } },
        axisLabel: {
          customValues: yTicks,
          rotate: 90,
          fontSize: 20,
          color: "#000",
          fontFamily: FONT,
          margin: 12,
          formatter: (v: number) => v.toFixed(1),
        },
        splitLine: { show: false },
      },
      series: [
        scatter(legendNames[0], RED, noCoolingRuns),
        scatter(legendNames[1], GREEN, chestCoolingRuns),
        scatter(legendNames[2], PURPLE, headCoolingRuns),
        {
          type: "line",
          data: identityLine,
          showSymbol: false,
          clip: true,
          silent: true,
          lineStyle: { color: "#333", width: 1 },
          z: 5,
        },
      ],
      graphic: legendGraphics,
    });
    return () => chart.dispose();
  }, []);
  return <div ref={ref} style={{ position: "fixed", left: 0, top: 0, width: 635, height: 464 }} />;
}
